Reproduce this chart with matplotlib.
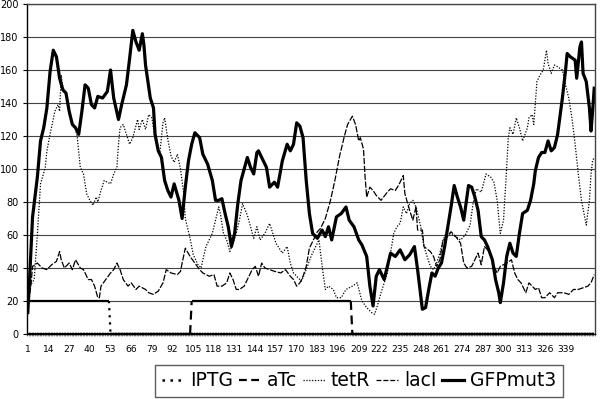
import matplotlib.pyplot as plt
from matplotlib.lines import Line2D

n_points = 357
xtick_values = list(range(1, 340, 13))
ytick_values = list(range(0, 201, 20))

# step inputs (inducers)
iptg_x = [1, 52, 53, 357]
iptg_y = [20, 20, 0, 0]
atc_x = [1, 103, 104, 204, 205, 357]
atc_y = [0, 0, 20, 20, 0, 0]

# GFPmut3 (thick solid)
gfp_x = [1, 2, 4, 7, 9, 11, 13, 15, 17, 19, 21, 23, 25, 27, 29, 31, 33, 35, 37, 39,
         41, 43, 45, 48, 51, 53, 55, 58, 60, 63, 65, 67, 69, 71, 73, 74, 75, 78, 80, 81,
         83, 85, 87, 89, 91, 93, 96, 98, 100, 102, 104, 106, 109, 111, 114, 117, 119, 121, 123, 125,
         127, 129, 131, 133, 135, 139, 141, 143, 145, 146, 148, 151, 153, 156, 158, 161, 164, 166, 168, 170,
         172, 174, 176, 178, 180, 183, 186, 188, 190, 192, 195, 198, 201, 203, 206, 209, 211, 214, 216, 218,
         220, 222, 225, 229, 232, 235, 238, 241, 244, 246, 249, 251, 253, 255, 257, 259, 261, 263, 265, 267,
         269, 271, 273, 275, 277, 278, 280, 282, 284, 286, 288, 290, 293, 295, 297, 298, 300, 302, 304, 306,
         308, 310, 312, 315, 317, 319, 320, 322, 324, 326, 328, 330, 332, 334, 337, 339, 340, 342, 345, 346,
         348, 349, 350, 352, 354, 355, 356, 357]
gfp_y = [13, 31, 71, 95, 117, 125, 137, 159, 172, 168, 155, 148, 146, 135, 127, 125, 121, 135, 151, 149,
         139, 137, 144, 143, 147, 160, 143, 130, 139, 151, 167, 184, 177, 172, 182, 175, 163, 143, 137, 121,
         111, 107, 93, 87, 83, 91, 81, 70, 89, 105, 115, 122, 119, 109, 103, 93, 81, 81, 82, 73,
         65, 53, 61, 79, 93, 107, 101, 97, 110, 111, 107, 101, 89, 92, 89, 105, 115, 111, 115, 128,
         126, 119, 93, 73, 61, 58, 63, 59, 65, 57, 71, 73, 77, 69, 65, 57, 54, 47, 29, 17,
         35, 39, 33, 49, 47, 51, 45, 48, 53, 39, 15, 16, 27, 37, 35, 40, 43, 53, 65, 77,
         90, 83, 77, 69, 83, 90, 89, 83, 75, 59, 57, 53, 45, 33, 25, 19, 31, 47, 55, 49,
         47, 61, 73, 75, 81, 91, 99, 107, 110, 110, 117, 111, 113, 121, 143, 160, 170, 168, 166, 155,
         174, 177, 158, 153, 137, 123, 135, 149]

# tetR (fine dotted)
tetr_x = [1, 3, 5, 7, 9, 12, 13, 15, 18, 20, 21, 22, 23, 25, 27, 29, 31, 32, 34, 36,
          38, 40, 42, 44, 45, 47, 49, 53, 55, 57, 58, 59, 61, 63, 65, 67, 70, 71, 73, 75,
          77, 79, 81, 83, 84, 86, 87, 89, 91, 93, 95, 97, 99, 100, 103, 105, 108, 110, 111, 113,
          117, 119, 121, 122, 124, 126, 128, 130, 132, 134, 136, 139, 141, 143, 145, 147, 150, 153, 155, 157,
          161, 164, 166, 168, 170, 173, 176, 179, 182, 184, 186, 188, 190, 193, 195, 198, 201, 205, 208, 211,
          214, 217, 219, 221, 223, 227, 229, 231, 233, 235, 237, 239, 241, 243, 245, 248, 250, 252, 254, 256,
          258, 260, 262, 264, 266, 270, 273, 276, 279, 281, 283, 286, 289, 292, 294, 296, 297, 298, 300, 301,
          302, 303, 304, 306, 308, 310, 312, 315, 316, 318, 319, 321, 323, 325, 327, 328, 330, 332, 334, 337,
          339, 341, 343, 345, 347, 349, 351, 352, 354, 355, 356, 357]
tetr_y = [22, 30, 33, 60, 91, 101, 111, 121, 135, 139, 135, 157, 150, 145, 134, 127, 124, 120, 101, 97,
          85, 81, 78, 83, 80, 87, 93, 91, 97, 101, 115, 125, 127, 121, 115, 119, 130, 124, 130, 124,
          133, 131, 118, 112, 110, 128, 131, 118, 108, 104, 109, 100, 85, 70, 58, 48, 42, 40, 45, 53,
          61, 69, 77, 73, 61, 57, 50, 55, 61, 69, 79, 72, 65, 58, 65, 57, 61, 67, 61, 55,
          49, 53, 43, 37, 35, 32, 39, 47, 53, 57, 41, 27, 29, 27, 22, 22, 27, 29, 31, 20,
          16, 13, 12, 18, 25, 37, 49, 61, 65, 67, 77, 73, 79, 81, 77, 65, 53, 47, 41, 39,
          43, 49, 57, 61, 61, 59, 57, 60, 66, 80, 88, 86, 97, 95, 92, 81, 71, 61, 69, 85,
          101, 119, 125, 121, 131, 125, 117, 125, 131, 133, 127, 153, 157, 160, 172, 164, 158, 163, 162, 160,
          151, 143, 131, 115, 97, 81, 71, 66, 81, 97, 105, 107]

# lacI (thin dashed)
laci_x = [1, 3, 4, 7, 10, 13, 16, 19, 21, 22, 24, 27, 29, 31, 34, 36, 38, 39, 41, 43,
          45, 46, 47, 50, 53, 55, 57, 59, 61, 64, 66, 69, 71, 75, 77, 80, 83, 86, 88, 91,
          95, 97, 98, 100, 103, 106, 109, 111, 115, 118, 120, 123, 126, 128, 130, 132, 134, 137, 140, 142,
          144, 146, 148, 150, 153, 156, 160, 163, 166, 168, 170, 172, 174, 176, 178, 181, 183, 185, 188, 191,
          194, 197, 200, 202, 205, 207, 209, 210, 212, 213, 214, 216, 218, 220, 223, 227, 229, 232, 234, 237,
          238, 241, 243, 245, 246, 249, 250, 254, 256, 258, 260, 262, 264, 267, 270, 273, 275, 277, 280, 282,
          284, 286, 288, 291, 294, 296, 298, 302, 305, 307, 309, 311, 314, 316, 318, 320, 322, 324, 326, 329,
          332, 334, 338, 341, 344, 347, 350, 353, 355, 357]
laci_y = [15, 30, 41, 43, 40, 39, 42, 44, 50, 45, 40, 43, 39, 45, 40, 39, 35, 33, 33, 29,
          22, 22, 29, 33, 37, 39, 43, 39, 33, 29, 31, 27, 29, 27, 25, 24, 26, 31, 39, 37,
          36, 38, 43, 52, 47, 43, 39, 37, 35, 36, 29, 29, 31, 37, 33, 27, 27, 29, 35, 39,
          41, 35, 43, 40, 39, 38, 37, 39, 35, 33, 29, 31, 35, 41, 52, 58, 62, 64, 70, 80,
          93, 108, 120, 127, 132, 127, 117, 119, 112, 95, 83, 89, 87, 84, 81, 86, 88, 87, 90, 96,
          85, 75, 69, 77, 63, 63, 53, 50, 47, 41, 45, 57, 58, 62, 59, 55, 43, 40, 41, 45,
          49, 42, 53, 50, 41, 37, 41, 43, 45, 37, 33, 31, 25, 31, 29, 27, 28, 22, 22, 25,
          22, 25, 25, 24, 27, 27, 28, 29, 31, 36]

plt.rcParams['font.family'] = ['DejaVu Sans']

fig = plt.figure(figsize=(6.04, 3.99), dpi=100)
ax = fig.add_axes([27 / 604, 65 / 399, 568 / 604, 330 / 399])


def draw_step(x, y, style):
    # Excel restarts the dash pattern on every segment: flat runs look solid
    for k in range(len(x) - 1):
        xs, ys = x[k:k + 2], y[k:k + 2]
        if ys[0] == ys[1]:
            ax.plot(xs, ys, color='black', lw=1.6, solid_capstyle='butt', clip_on=False)
        else:
            ax.plot(xs, ys, color='black', lw=1.6, dashes=style, clip_on=False)


draw_step(iptg_x, iptg_y, (1, 2.2))
draw_step(atc_x, atc_y, (4, 2.5))
ax.plot(tetr_x, tetr_y, color='black', lw=0.9, dashes=(1, 1.3))
ax.plot(laci_x, laci_y, color='black', lw=0.9, dashes=(5, 1.3))
ax.plot(gfp_x, gfp_y, color='black', lw=2.3, solid_joinstyle='round')

ax.set_xlim(0.5, n_points + 0.5)
ax.set_ylim(0, 200)
ax.set_yticks(ytick_values)
ax.set_yticklabels([str(v) for v in ytick_values], fontsize=7)
ax.set_xticks(xtick_values)
ax.set_xticklabels([str(v) for v in xtick_values], fontsize=6.6)
ax.set_xticks([i + 0.5 for i in range(n_points + 1)], minor=True)
ax.tick_params(axis='x', which='major', length=0, pad=8)
ax.tick_params(axis='x', which='minor', length=3, width=0.4, direction='inout', color='#555555')
ax.tick_params(axis='y', length=3, width=0.8, pad=3)
ax.grid(axis='y', color='#444444', lw=0.8)
ax.set_axisbelow(True)
for side in ['top', 'right']:
    ax.spines[side].set_color('#444444')
    ax.spines[side].set_linewidth(1.0)
for side in ['left', 'bottom']:
    ax.spines[side].set_color('black')
    ax.spines[side].set_linewidth(1.0)

handles = [
    Line2D([], [], color='black', lw=1.8, dashes=(1, 2.2)),
    Line2D([], [], color='black', lw=1.6, dashes=(3.5, 2)),
    Line2D([], [], color='black', lw=0.9, dashes=(1, 1.3)),
    Line2D([], [], color='black', lw=0.9, dashes=(4, 1.5)),
    Line2D([], [], color='black', lw=2.3),
]
labels = ['IPTG', 'aTc', 'tetR', 'lacI', 'GFPmut3']
leg = fig.legend(handles, labels, loc='center', bbox_to_anchor=(359 / 604, 18 / 399),
                 ncol=5, fontsize=13.5, frameon=True, fancybox=False, handlelength=1.2,
                 handletextpad=0.3, columnspacing=0.3, borderpad=0.35)
leg.get_frame().set_edgecolor('#333333')
leg.get_frame().set_linewidth(1.0)

fig.savefig('out.png', dpi=100)
